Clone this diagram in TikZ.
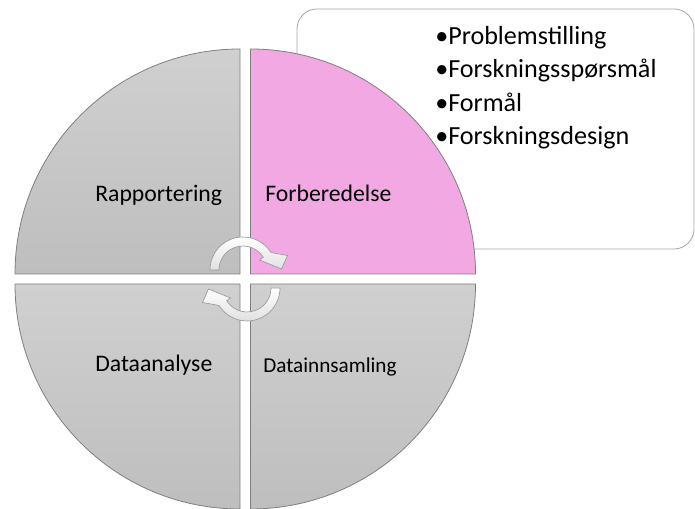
\documentclass[tikz,border=0pt]{standalone}
\usepackage{fontspec}
\setmainfont{Carlito}
\definecolor{quadtop}{HTML}{D0D0D0}
\definecolor{quadbot}{HTML}{BEBEBE}
\definecolor{quadline}{HTML}{7F7F7F}
\definecolor{pinkfill}{HTML}{F2A8E2}
\definecolor{boxline}{HTML}{A6A6A6}
\definecolor{arrowline}{HTML}{9A9A9A}
\begin{document}
\begin{tikzpicture}[x=0.75pt,y=0.75pt,
  quad/.style={draw=quadline,line width=0.6pt,top color=quadtop,bottom color=quadbot},
  pinkquad/.style={draw=quadline,line width=0.6pt,fill=pinkfill},
  callout/.style={draw=boxline,line width=0.6pt,fill=white,rounded corners=15pt},
  cyclearrow/.style={draw=arrowline,line width=0.5pt,top color=white,bottom color=black!12},
  lbl/.style={inner sep=0pt,anchor=base west,font=\fontsize{17.8}{21}\selectfont},
  lblsmall/.style={inner sep=0pt,anchor=base west,font=\fontsize{15.9}{19}\selectfont},
  listtxt/.style={inner sep=0pt,anchor=base west,font=\fontsize{19.6}{24}\selectfont}]
\useasboundingbox (0,0) rectangle (695,509);

% callout box behind the highlighted quadrant
\path[callout] (297,260) rectangle (694,500);

% the four quadrants of the cycle
\coordinate (tl) at (240,235);
\coordinate (tr) at (250.5,235);
\coordinate (bl) at (240,225);
\coordinate (br) at (250.5,225);
\path[quad] (tl) -- ++(-225,0) arc[start angle=180,end angle=90,radius=225] -- cycle;
\path[pinkquad] (tr) -- ++(0,225) arc[start angle=90,end angle=0,radius=225] -- cycle;
\path[quad] (bl) -- ++(0,-225) arc[start angle=270,end angle=180,radius=225] -- cycle;
\path[quad] (br) -- ++(225,0) arc[start angle=0,end angle=-90,radius=225] -- cycle;

% circular arrow over the top (clockwise, pointing down on the right)
\path[cyclearrow] (219,239) -- (210,239)
  arc[start angle=180,end angle=32,radius=33]
  -- (287.5,253.5) -- (281.5,240) -- (259.5,249)
  -- (263.35,251.7) arc[start angle=32,end angle=180,radius=24] -- cycle;
% circular arrow under the bottom (clockwise, pointing up on the left)
\path[cyclearrow] (271,221) -- (280,221)
  arc[start angle=0,end angle=-148,radius=33]
  -- (202.5,206.5) -- (208.5,220) -- (230.5,211)
  -- (226.65,208.3) arc[start angle=-148,end angle=0,radius=24] -- cycle;

% quadrant labels
\node[lbl] (rap) at (95,307) {Rapportering};
\node[lbl] (forb) at (265,307) {Forberedelse};
\node[lbl] (dana) at (95,137) {Dataanalyse};
\node[lblsmall] (dinn) at (263,136) {Datainnsamling};

% bullet list in the callout
\node[listtxt] (l1) at (435,464) {•Problemstilling};
\node[listtxt] (l2) at (435,431) {•Forskningsspørsmål};
\node[listtxt] (l3) at (435,397) {•Formål};
\node[listtxt] (l4) at (435,364) {•Forskningsdesign};
\end{tikzpicture}
\end{document}
